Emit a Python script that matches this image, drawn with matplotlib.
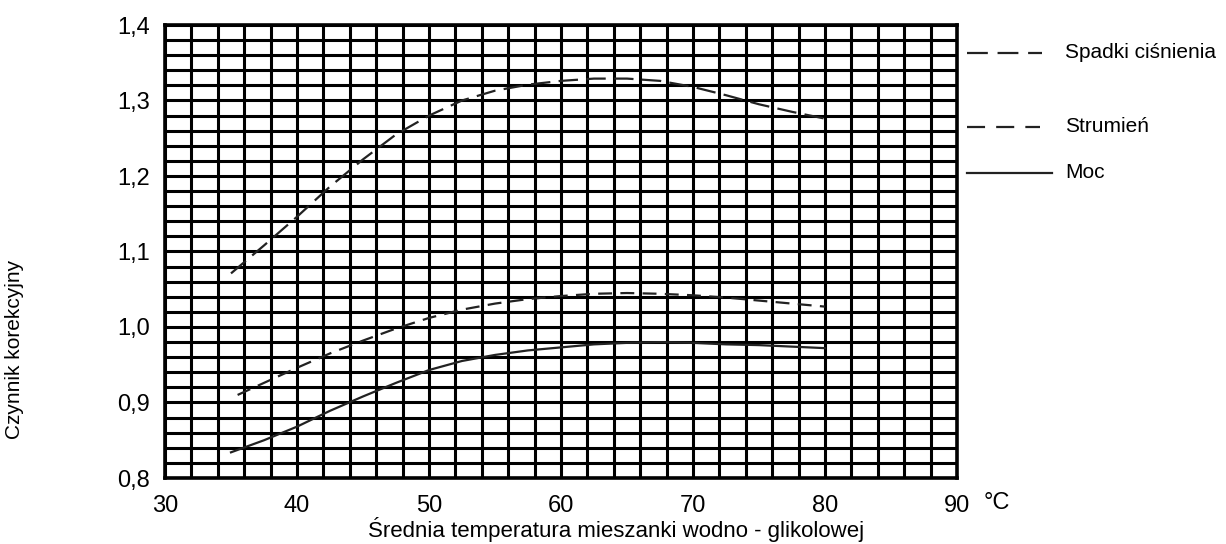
import matplotlib
matplotlib.use("Agg")
import matplotlib.pyplot as plt
from matplotlib.ticker import MultipleLocator
from matplotlib.lines import Line2D

plt.rcParams['font.family'] = ['Liberation Sans', 'DejaVu Sans']
plt.rcParams['lines.scale_dashes'] = False

temp = [35, 37.5, 40, 42.5, 45, 47.5, 50, 52.5, 55, 57.5, 60, 62.5, 65, 67.5, 70, 72.5, 75, 77.5, 80]
spadki = [1.071, 1.108, 1.146, 1.186, 1.222, 1.255, 1.280, 1.300, 1.313, 1.321, 1.326, 1.329,
          1.329, 1.326, 1.318, 1.307, 1.295, 1.285, 1.276]
temp_str = [35.5, 37.5, 40, 42.5, 45, 47.5, 50, 52.5, 55, 57.5, 60, 62.5, 65, 67.5, 70, 72.5, 75, 77.5, 80]
strumien = [0.910, 0.926, 0.946, 0.965, 0.982, 0.998, 1.012, 1.023, 1.031, 1.037, 1.041, 1.044,
            1.045, 1.044, 1.042, 1.039, 1.035, 1.031, 1.027]
moc = [0.834, 0.850, 0.868, 0.889, 0.908, 0.926, 0.943, 0.955, 0.963, 0.969, 0.973, 0.977,
       0.979, 0.980, 0.979, 0.977, 0.976, 0.974, 0.972]

xticks = [30, 40, 50, 60, 70, 80, 90]
yticks = [0.8, 0.9, 1.0, 1.1, 1.2, 1.3, 1.4]
ytick_labels = ['0,8', '0,9', '1,0', '1,1', '1,2', '1,3', '1,4']
legend_names = ['Spadki ciśnienia', 'Strumień', 'Moc']

W, H = 1226, 544
fig = plt.figure(figsize=(W / 100, H / 100), dpi=100)
ax = fig.add_axes([165 / W, 1 - 478 / H, (957 - 165) / W, (478 - 25) / H])

col = '#222222'
ax.plot(temp, spadki, color=col, lw=1.6, dashes=(14, 6), zorder=3)
ax.plot(temp_str, strumien, color=col, lw=1.6, dashes=(10, 6), zorder=3)
ax.plot(temp, moc, color=col, lw=1.6, zorder=3)

ax.set_xlim(30, 90)
ax.set_ylim(0.8, 1.4)
ax.set_xticks(xticks)
ax.set_yticks(yticks)
ax.set_yticklabels(ytick_labels)
ax.xaxis.set_minor_locator(MultipleLocator(2))
ax.yaxis.set_minor_locator(MultipleLocator(0.02))
ax.grid(which='both', color='black', lw=2.2)
ax.set_axisbelow(True)
ax.tick_params(which='both', length=0, labelsize=17)
ax.tick_params(axis='x', pad=12)
ax.tick_params(axis='y', pad=11)
for s in ax.spines.values():
    s.set_linewidth(2.6)

fig.text(997 / W, 1 - 503 / H, '°C', fontsize=17, ha='center', va='center')
fig.text(616 / W, 1 - 530 / H, 'Średnia temperatura mieszanki wodno - glikolowej',
         fontsize=16, ha='center', va='center')
fig.text(15 / W, 1 - 349 / H, 'Czynnik korekcyjny', fontsize=15, rotation=90,
         ha='center', va='center')

# legenda po prawej
leg = [(53, 1042, (15, 7)), (127, 1040, (13, 8)), (173, 1052, None)]
for name, (yy, x2, d) in zip(legend_names, leg):
    ln = Line2D([967 / W, x2 / W], [1 - yy / H, 1 - yy / H], color=col, lw=1.6)
    if d:
        ln.set_dashes(d)
    fig.add_artist(ln)
    fig.text(1065 / W, 1 - (yy - 1) / H, name, fontsize=15, ha='left', va='center')

fig.savefig('out.png', dpi=100)
